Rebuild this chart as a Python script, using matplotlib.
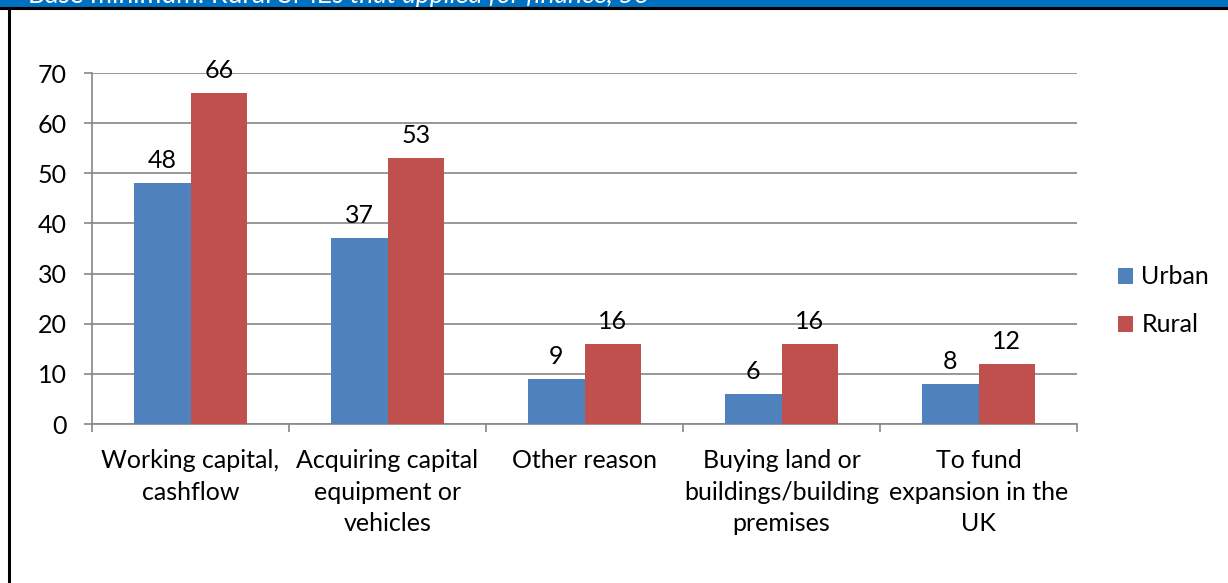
import matplotlib.pyplot as plt
import numpy as np
from matplotlib.patches import Rectangle
from matplotlib.lines import Line2D

categories = [
    "Working capital,\ncashflow",
    "Acquiring capital\nequipment or\nvehicles",
    "Other reason",
    "Buying land or\nbuildings/building\npremises",
    "To fund\nexpansion in the\nUK",
]
urban = [48, 37, 9, 6, 8]
rural = [66, 53, 16, 16, 12]
y_ticks = [0, 10, 20, 30, 40, 50, 60, 70]

BLUE = "#4F81BD"
RED = "#C0504D"
GRID = "#868686"
FS = 18

plt.rcParams["font.family"] = ["Lato", "DejaVu Sans"]

fig = plt.figure(figsize=(12.28, 5.83), dpi=100)
W, H = 1228, 583

# banner strip across the top; its caption runs off the top edge
fig.patches.append(Rectangle((0, 1 - 7 / H), 1, 7 / H, transform=fig.transFigure,
                             facecolor="#0070C0", edgecolor="none", zorder=0))
fig.lines.append(Line2D([0, 1], [1 - 8 / H, 1 - 8 / H], transform=fig.transFigure,
                        color="black", lw=2.2))
fig.lines.append(Line2D([9 / W, 9 / W], [0, 1 - 8 / H], transform=fig.transFigure,
                        color="black", lw=2.2))
t1 = fig.text(28 / W, 1 - 3 / H, "Base minimum: Rural SMEs ", color="white", fontsize=19,
              va="baseline", ha="left")
fig.canvas.draw()
bb = t1.get_window_extent()
fig.text(bb.x1 / W, 1 - 3 / H, "that applied for finance, 56", color="white", fontsize=19,
         style="italic", va="baseline", ha="left")

ax = fig.add_axes([92 / W, 1 - 424 / H, (1077 - 92) / W, (424 - 73) / H])

x = np.arange(len(categories))
width = 0.287
b1 = ax.bar(x - width / 2, urban, width, color=BLUE, label="Urban", zorder=3)
b2 = ax.bar(x + width / 2, rural, width, color=RED, label="Rural", zorder=3)

for bars, vals in ((b1, urban), (b2, rural)):
    for rect, v in zip(bars, vals):
        ax.annotate(str(v), (rect.get_x() + rect.get_width() / 2, v),
                    xytext=(0, 8), textcoords="offset points",
                    ha="center", va="bottom", fontsize=FS)

ax.set_xlim(-0.5, len(categories) - 0.5)
ax.set_ylim(0, 70)
ax.set_yticks(y_ticks)
ax.tick_params(axis="y", labelsize=FS, length=6, color=GRID, width=1.2, pad=12)
ax.yaxis.grid(True, color=GRID, lw=1.2, zorder=0)
ax.set_axisbelow(True)

ax.set_xticks(x)
ax.set_xticklabels(categories, fontsize=FS, linespacing=1.45)
ax.tick_params(axis="x", length=0, pad=18)
ax.set_xticks(np.arange(len(categories) + 1) - 0.5, minor=True)
ax.tick_params(axis="x", which="minor", length=6, color=GRID, width=1.2)

for side in ("top", "right"):
    ax.spines[side].set_visible(False)
for side in ("left", "bottom"):
    ax.spines[side].set_color(GRID)
    ax.spines[side].set_linewidth(1.2)

fig.legend(handles=[b1, b2], loc="upper left", bbox_to_anchor=(1095 / W, 1 - 243 / H),
           frameon=False, fontsize=FS, handlelength=0.6, handleheight=0.6,
           handletextpad=0.35, labelspacing=1.0)

fig.savefig("out.png", dpi=100)
